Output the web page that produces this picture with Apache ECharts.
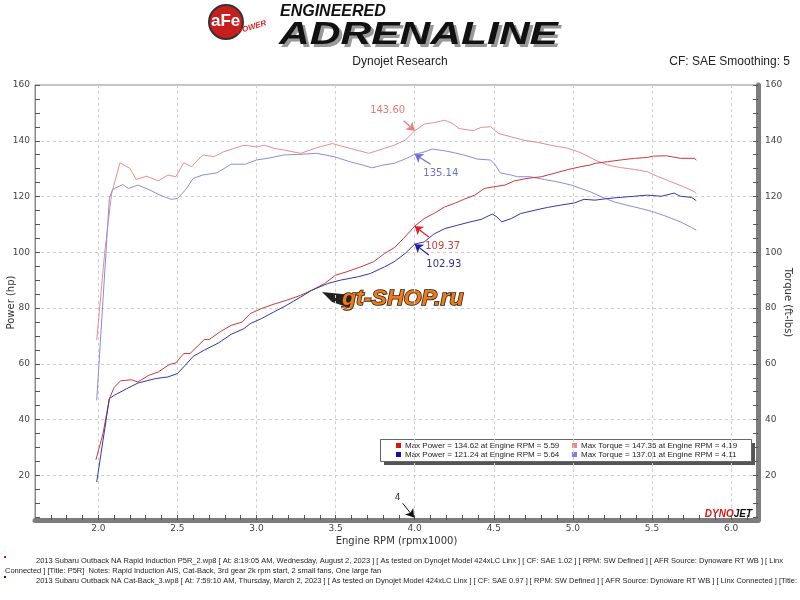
<!DOCTYPE html>
<html>
<head>
<meta charset="utf-8">
<script src="https://cdn.jsdelivr.net/npm/echarts@6/dist/echarts.min.js"></script>
<style>
  html, body { margin: 0; padding: 0; background: #fff; }
  #main { width: 800px; height: 600px; }
</style>
</head>
<body>
<div id="main"></div>
<script>
// run A = P5R (red), run B = Cat-Back (blue); [rpm x1000, value]
const powerA = [[1.985,25.6],[2.03,35.0],[2.07,47.5],[2.10,51.5],[2.14,53.9],[2.21,54.3],[2.25,53.5],[2.32,55.9],[2.38,57.1],[2.45,59.8],[2.49,60.3],[2.54,63.7],[2.58,63.7],[2.67,68.7],[2.70,68.7],[2.77,71.5],[2.84,73.8],[2.91,75.0],[2.96,78.0],[3.03,79.8],[3.11,81.4],[3.19,82.8],[3.28,84.6],[3.35,86.4],[3.43,88.8],[3.50,91.8],[3.57,93.0],[3.66,94.8],[3.74,96.6],[3.81,99.6],[3.87,101.6],[3.93,105.0],[4.0,109.37],[4.06,112.1],[4.12,113.9],[4.19,116.3],[4.25,117.5],[4.31,119.0],[4.38,120.5],[4.44,122.9],[4.50,123.5],[4.57,124.1],[4.63,125.6],[4.71,126.5],[4.80,127.1],[4.88,128.3],[4.97,129.7],[5.05,130.7],[5.11,131.3],[5.14,131.9],[5.22,132.5],[5.30,133.1],[5.39,133.7],[5.47,134.0],[5.51,134.5],[5.59,134.62],[5.68,133.7],[5.77,133.7],[5.78,133.0]];
const torqueA = [[1.99,68.5],[2.04,99.6],[2.084,121.0],[2.137,132.1],[2.20,130.1],[2.24,126.1],[2.305,127.3],[2.38,125.6],[2.44,127.7],[2.49,127.1],[2.54,132.1],[2.59,130.7],[2.66,134.9],[2.73,134.3],[2.79,136.0],[2.86,137.3],[2.92,138.4],[3.0,137.8],[3.05,138.4],[3.11,137.3],[3.17,136.7],[3.28,135.5],[3.38,137.5],[3.48,139.0],[3.53,138.2],[3.59,137.3],[3.71,135.5],[3.81,137.3],[3.87,138.4],[3.94,140.2],[4.0,143.6],[4.06,146.0],[4.12,146.5],[4.19,147.36],[4.24,146.2],[4.28,144.4],[4.37,143.6],[4.42,144.8],[4.48,145.0],[4.53,142.6],[4.61,141.4],[4.69,140.2],[4.78,139.4],[4.86,138.4],[4.97,137.3],[5.05,135.7],[5.14,133.1],[5.22,131.3],[5.30,130.4],[5.39,129.7],[5.47,128.9],[5.54,127.1],[5.62,125.3],[5.70,123.5],[5.77,121.7],[5.78,121.0]];
const powerB = [[1.99,17.6],[2.03,32.6],[2.07,47.5],[2.10,48.7],[2.18,51.1],[2.25,53.1],[2.36,54.7],[2.44,55.3],[2.50,56.5],[2.55,59.5],[2.60,62.7],[2.67,64.9],[2.76,67.5],[2.84,70.6],[2.92,72.6],[2.96,74.4],[3.03,76.2],[3.11,78.6],[3.19,81.0],[3.28,84.0],[3.35,86.4],[3.45,88.8],[3.53,90.0],[3.64,91.2],[3.72,92.4],[3.81,94.8],[3.87,96.6],[3.94,99.6],[4.0,102.93],[4.06,103.7],[4.12,106.5],[4.19,108.5],[4.27,109.7],[4.35,110.9],[4.42,111.8],[4.49,113.7],[4.52,112.7],[4.55,110.9],[4.61,112.1],[4.67,113.9],[4.76,115.1],[4.84,116.1],[4.92,116.9],[5.01,117.7],[5.07,119.0],[5.14,118.7],[5.22,119.3],[5.30,119.7],[5.39,120.1],[5.47,120.5],[5.56,120.1],[5.64,121.24],[5.68,120.1],[5.75,119.7],[5.78,118.5]];
const torqueB = [[1.99,46.9],[2.03,83.0],[2.07,119.3],[2.09,122.5],[2.155,124.3],[2.19,122.9],[2.25,124.1],[2.32,122.5],[2.39,120.5],[2.46,119.0],[2.50,119.3],[2.55,122.3],[2.60,126.5],[2.66,127.7],[2.75,128.5],[2.84,131.6],[2.93,131.6],[3.0,133.1],[3.09,133.9],[3.17,134.9],[3.26,135.1],[3.38,135.5],[3.49,134.3],[3.59,132.5],[3.67,131.3],[3.73,130.3],[3.80,131.3],[3.87,131.9],[3.95,133.7],[4.0,135.14],[4.06,136.0],[4.11,137.01],[4.19,136.4],[4.25,135.7],[4.31,134.9],[4.40,133.4],[4.48,133.1],[4.51,131.3],[4.54,128.5],[4.61,127.7],[4.65,127.1],[4.73,127.1],[4.82,126.1],[4.90,125.3],[4.99,124.1],[5.05,122.9],[5.11,121.7],[5.18,119.9],[5.26,118.1],[5.34,116.9],[5.43,115.7],[5.51,114.5],[5.60,112.7],[5.68,110.9],[5.75,108.9],[5.78,107.9]];

const xLabels = [2.0, 2.5, 3.0, 3.5, 4.0, 4.5, 5.0, 5.5, 6.0];
const yLabels = [20, 40, 60, 80, 100, 120, 140, 160];
const cursorRpm = 4.0;
const cursorVals = { torqueA: 143.60, torqueB: 135.14, powerA: 109.37, powerB: 102.93 };
const legendRows = [
  ["Max Power = 134.62 at Engine RPM = 5.59", "Max Torque = 147.36 at Engine RPM = 4.19"],
  ["Max Power = 121.24 at Engine RPM = 5.64", "Max Torque = 137.01 at Engine RPM = 4.11"]
];
const footer = [
  "2013 Subaru Outback NA Rapid Induction P5R_2.wp8 [ At: 8:19:05 AM, Wednesday, August 2, 2023 ] [ As tested on Dynojet Model 424xLC Linx ] [ CF: SAE 1.02 ] [ RPM: SW Defined ] [ AFR Source: Dynoware RT WB ] [ Linx",
  "Connected ] [Title: P5R]  Notes: Rapid Induction AIS, Cat-Back, 3rd gear 2k rpm start, 2 small fans, One large fan",
  "2013 Subaru Outback NA Cat-Back_3.wp8 [ At: 7:59:10 AM, Thursday, March 2, 2023 ] [ As tested on Dynojet Model 424xLC Linx ] [ CF: SAE 0.97 ] [ RPM: SW Defined ] [ AFR Source: Dynoware RT WB ] [ Linx Connected ] [Title:"
];

const colors = { powerA: "#c83a3a", torqueA: "#e98c8c", powerB: "#3535a8", torqueB: "#8a8ae0" };
const FONT = "DejaVu Sans";
const SMALL = "Liberation Sans";

const xTicks = [];
for (let i = 17; i <= 61; i++) xTicks.push(i / 10);
const yTicks = [];
for (let v = 5; v <= 160; v += 5) yTicks.push(v);

// arrow + text at the cursor; a = arrow tail offset, t = text offset, both [rpm, value]
function callout(val, a, t, lineColor, textColor) {
  return {
    line: [
      { coord: [cursorRpm + a[0], val + a[1]], symbol: "none",
        lineStyle: { color: lineColor, width: 1.2, type: "solid" }, label: { show: false } },
      { coord: [cursorRpm, val], symbol: "arrow", symbolSize: 8 }
    ],
    text: {
      coord: [cursorRpm + t[0], val + t[1]], symbol: "circle", symbolSize: 0,
      label: { show: true, position: "inside", formatter: val.toFixed(2),
               color: textColor, fontSize: 10, fontFamily: FONT }
    }
  };
}

const mychart = echarts.init(document.getElementById("main"));

function lineSeries(name, data, color, lines, texts) {
  return {
    name: name, type: "line", data: data, showSymbol: false, smooth: false,
    lineStyle: { color: color, width: 1 }, itemStyle: { color: color },
    silent: true, animation: false,
    markLine: { silent: true, animation: false, data: lines },
    markPoint: { silent: true, animation: false, data: texts }
  };
}

const cTA = callout(cursorVals.torqueA, [-0.07, 3.6], [-0.171, 7.4], "#e98080", "#e07a7a");
const cTB = callout(cursorVals.torqueB, [0.10, -3.6], [0.165, -7.0], "#6f6fd8", "#7070c8");
const cPA = callout(cursorVals.powerA, [0.089, -3.9], [0.177, -7.2], "#e02020", "#c84040");
const cPB = callout(cursorVals.powerB, [0.089, -3.9], [0.184, -7.2], "#20209a", "#303090");

mychart.setOption({
  animation: false,
  grid: { left: 35, right: 42, top: 85, bottom: 80, show: true, borderColor: "#8a8a8a", borderWidth: 1,
          containLabel: false, outerBoundsMode: "none" },
  xAxis: [
    {
      type: "value", min: 1.6, max: 6.17, position: "bottom",
      name: "Engine RPM (rpmx1000)", nameLocation: "middle", nameGap: 16, nameMoveOverlap: false,
      nameTextStyle: { color: "#333", fontSize: 10, fontFamily: FONT },
      axisLine: { show: true, onZero: false, lineStyle: { color: "#7d7d7d", width: 5 } },
      axisTick: { show: true, inside: true, length: 5, customValues: xTicks, lineStyle: { color: "#555" } },
      axisLabel: { customValues: xLabels, formatter: v => v.toFixed(1), color: "#444", fontSize: 9, fontFamily: FONT, margin: 4 },
      splitLine: { show: false }
    },
    {
      type: "value", min: 1.6, max: 6.17, position: "top",
      axisLine: { show: false },
      axisTick: { show: false, customValues: xLabels },
      axisLabel: { show: false },
      splitLine: { show: true, lineStyle: { color: "#cfcfcf", type: [3, 3], width: 1 } }
    }
  ],
  yAxis: [
    {
      type: "value", min: 4, max: 160, position: "left",
      name: "Power (hp)", nameLocation: "middle", nameGap: 19, nameRotate: 90, nameMoveOverlap: false,
      nameTextStyle: { color: "#333", fontSize: 10, fontFamily: FONT },
      axisLine: { show: true, onZero: false, lineStyle: { color: "#8a8a8a", width: 1 } },
      axisTick: { show: true, inside: true, length: 5, customValues: yTicks, lineStyle: { color: "#555" } },
      axisLabel: { customValues: yLabels, color: "#444", fontSize: 9, fontFamily: FONT, margin: 5 },
      splitLine: { show: false }
    },
    {
      type: "value", min: 4, max: 160, position: "right",
      name: "Torque (ft-lbs)", nameLocation: "middle", nameGap: 25, nameRotate: -90, nameMoveOverlap: false,
      nameTextStyle: { color: "#333", fontSize: 10, fontFamily: FONT },
      axisLine: { show: true, onZero: false, lineStyle: { color: "#7d7d7d", width: 5 } },
      axisTick: { show: true, inside: true, length: 5, customValues: yTicks, lineStyle: { color: "#555" } },
      axisLabel: { customValues: yLabels, color: "#444", fontSize: 9, fontFamily: FONT, margin: 7 },
      splitLine: { show: false }
    },
    {
      type: "value", min: 4, max: 160, position: "left",
      axisLine: { show: false },
      axisTick: { show: false, customValues: yLabels.slice(0, -1) },
      axisLabel: { show: false },
      splitLine: { show: true, lineStyle: { color: "#cfcfcf", type: [3, 3], width: 1 } }
    }
  ],
  series: [
    lineSeries("Torque P5R", torqueA, colors.torqueA, [cTA.line], [cTA.text]),
    lineSeries("Torque Cat-Back", torqueB, colors.torqueB, [cTB.line], [cTB.text]),
    lineSeries("Power P5R", powerA, colors.powerA, [
      [{ xAxis: cursorRpm, symbol: "none", lineStyle: { color: "#333", width: 1, type: "solid" }, label: { show: false } },
       { xAxis: cursorRpm, symbol: "none" }],
      cPA.line,
      [{ coord: [cursorRpm - 0.076, 10.0], symbol: "none",
         lineStyle: { color: "#111", width: 1, type: "solid" }, label: { show: false } },
       { coord: [cursorRpm - 0.004, 4.9], symbol: "arrow", symbolSize: 8 }]
    ], [
      cPA.text,
      { coord: [cursorRpm - 0.108, 12.1], symbol: "circle", symbolSize: 0,
        label: { show: true, position: "inside", formatter: String(cursorRpm), color: "#333", fontSize: 9, fontFamily: FONT } }
    ]),
    lineSeries("Power Cat-Back", powerB, colors.powerB, [cPB.line], [cPB.text])
  ],
  graphic: [
    // header logo
    { type: "circle", shape: { cx: 226, cy: 22, r: 17 }, style: { fill: "#c81e1e", stroke: "#333", lineWidth: 2 } },
    { type: "text", x: 211, y: 13, style: { text: "aFe", fill: "#fff", fontSize: 17, fontWeight: "bold", fontFamily: SMALL } },
    { type: "text", x: 236, y: 28, rotation: 0.3, style: { text: "POWER", fill: "#d22", fontSize: 8, fontWeight: "bold", fontStyle: "italic", fontFamily: SMALL } },
    { type: "text", x: 280, y: 4, style: { text: "ENGINEERED", fill: "#111", fontSize: 16, fontWeight: "bold", fontStyle: "italic", fontFamily: SMALL } },
    { type: "text", x: 282, y: 22, scaleX: 1.33, style: { text: "ADRENALINE", fill: "#999", fontSize: 32, fontWeight: "bold", fontStyle: "italic", fontFamily: SMALL } },
    { type: "text", x: 279, y: 19, scaleX: 1.33, style: { text: "ADRENALINE", fill: "#111", fontSize: 32, fontWeight: "bold", fontStyle: "italic", fontFamily: SMALL } },
    { type: "text", x: 400, y: 62, style: { text: "Dynojet Research", fill: "#222", fontSize: 12, fontFamily: SMALL, align: "center", verticalAlign: "middle" } },
    { type: "text", x: 790, y: 62, style: { text: "CF: SAE Smoothing: 5", fill: "#222", fontSize: 12, fontFamily: SMALL, align: "right", verticalAlign: "middle" } },
    // watermark
    { type: "polygon", shape: { points: [[322, 292], [352, 295], [350, 308], [332, 302]] }, style: { fill: "#222" } },
    { type: "text", x: 342, y: 288, scaleX: 1.05, style: { text: "gt-SHOP.ru", fill: "#f07a14", stroke: "#222", lineWidth: 1.5, fontSize: 22, fontWeight: "bold", fontStyle: "italic", fontFamily: SMALL } },
    // dynojet mark
    { type: "text", x: 752, y: 514, style: { text: "{r|DYNO}{k|JET}", align: "right", verticalAlign: "middle",
      rich: { r: { fill: "#d41818", fontSize: 10, fontWeight: "bold", fontStyle: "italic", fontFamily: SMALL },
              k: { fill: "#111", fontSize: 10, fontWeight: "bold", fontStyle: "italic", fontFamily: SMALL } } } },
    // legend box
    { type: "rect", shape: { x: 384, y: 443, width: 371, height: 22 }, style: { fill: "#555" } },
    { type: "rect", shape: { x: 380.5, y: 439.5, width: 371, height: 22 }, style: { fill: "#fff", stroke: "#666", lineWidth: 1 } },
    { type: "rect", shape: { x: 396, y: 443, width: 5, height: 5 }, style: { fill: "#dd1111" } },
    { type: "rect", shape: { x: 572, y: 443, width: 5, height: 5 }, style: { fill: "#e88a8a" } },
    { type: "rect", shape: { x: 396, y: 452, width: 5, height: 5 }, style: { fill: "#1111aa" } },
    { type: "rect", shape: { x: 572, y: 452, width: 5, height: 5 }, style: { fill: "#7f7fe0" } },
    { type: "text", x: 405, y: 446, style: { text: legendRows[0][0], fill: "#222", fontSize: 8, fontFamily: SMALL, verticalAlign: "middle" } },
    { type: "text", x: 581, y: 446, style: { text: legendRows[0][1], fill: "#222", fontSize: 8, fontFamily: SMALL, verticalAlign: "middle" } },
    { type: "text", x: 405, y: 455, style: { text: legendRows[1][0], fill: "#222", fontSize: 8, fontFamily: SMALL, verticalAlign: "middle" } },
    { type: "text", x: 581, y: 455, style: { text: legendRows[1][1], fill: "#222", fontSize: 8, fontFamily: SMALL, verticalAlign: "middle" } },
    // footer
    { type: "rect", shape: { x: 4, y: 556, width: 2, height: 2 }, style: { fill: "#e01010" } },
    { type: "rect", shape: { x: 4, y: 576, width: 2, height: 2 }, style: { fill: "#1010c0" } },
    { type: "text", x: 36, y: 561, style: { text: footer[0], fill: "#222", fontSize: 7.5, fontFamily: SMALL, verticalAlign: "middle" } },
    { type: "text", x: 5, y: 571, style: { text: footer[1], fill: "#222", fontSize: 7.5, fontFamily: SMALL, verticalAlign: "middle" } },
    { type: "text", x: 36, y: 581, style: { text: footer[2], fill: "#222", fontSize: 7.5, fontFamily: SMALL, verticalAlign: "middle" } }
  ]
});

window.addEventListener("resize", function () {
  mychart.resize();
});
</script>
</body>
</html>
